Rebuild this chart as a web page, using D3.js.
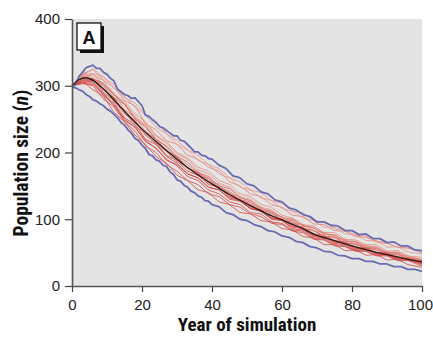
<!DOCTYPE html>
<html><head><meta charset="utf-8">
<script src="https://cdn.jsdelivr.net/npm/d3@7"></script>
<style>
body{margin:0;background:#fff;}
svg{display:block;}
text{font-family:"Liberation Sans Narrow","Roboto Condensed","Arial Narrow","Liberation Sans",sans-serif;}
</style></head>
<body>
<svg id="c" width="433" height="337"></svg>
<script>
// ---- data ----
const xTicks = [0, 20, 40, 60, 80, 100];
const yTicks = [0, 100, 200, 300, 400];
const panelLabel = "A";
const xTitle = "Year of simulation";

const meanYears = [0,2,4,6,8,10,15,20,25,30,35,40,45,50,55,60,65,70,75,80,85,90,95,100];
const meanVals  = [300,309,312,308,300,290,262,235,212,190,170,153,137,123,110,99,88,76,68,60,53,47,41,36];

const bandYears = [0,1,2,3,4,5,6,7,8,9,10,11,12,13,14,15,16,17,18,19,20,21,22,23,24,25,26,27,28,29,30,31,32,33,34,35,36,37,38,39,40,42,44,46,48,50,52,54,56,58,60,62,64,66,68,70,72,74,76,78,80,82,84,86,88,90,92,94,96,98,100];
const upperVals = [298,302,314,320,327,329,331,326,326,320,317,311,307,295,291,287,285,281,282,276,270,256,254,249,245,239,237,233,229,225,225,218,217,212,207,201,201,196,195,191,190,181,176,165,162,153,150,141,138,129,126,117,114,107,104,96,96,91,90,83,83,77,78,71,71,65,66,60,60,54,53];
const lowerVals = [298,297,294,292,287,284,279,277,273,270,265,262,257,252,245,241,234,229,221,218,211,206,197,195,189,187,181,179,171,167,159,157,151,148,142,140,135,133,128,127,122,119,110,107,100,98,92,89,83,81,75,73,67,65,59,57,52,51,46,45,41,41,37,37,33,33,29,29,25,25,22];

const simYears = [0,3,6,9,12,15,18,21,24,27,30,33,36,39,42,45,48,51,54,57,60,63,66,69,72,75,78,81,84,87,90,93,96,100];
const sim01 = [300,318,324,308,298,278,270,243,234,218,212,196,190,178,172,156,150,138,134,122,118,106,104,93,92,83,82,74,73,66,64,58,57,50];
const sim02 = [300,303,302,286,270,250,238,216,207,188,182,168,162,148,144,130,127,116,112,102,98,88,86,75,74,66,64,56,56,49,47,42,41,35];
const sim03 = [300,314,310,302,282,272,252,240,220,208,192,182,168,162,148,142,129,126,114,110,99,98,86,84,74,74,64,64,56,56,47,48,40,38];
const sim04 = [300,307,306,288,274,252,242,220,212,194,184,168,162,148,144,132,128,116,112,100,98,86,84,74,72,64,62,54,55,48,47,40,41,33];
const sim05 = [300,316,316,308,288,274,254,242,224,214,198,190,174,168,154,148,134,130,118,114,102,100,90,88,78,77,68,67,60,59,50,51,43,40];
const sim06 = [300,304,300,280,268,246,232,210,200,182,172,158,152,138,134,122,118,108,104,94,92,82,80,70,69,60,59,52,52,45,45,38,38,30];
const sim07 = [300,318,318,314,296,284,268,256,238,228,212,204,188,182,168,162,148,144,132,128,116,112,102,98,88,88,78,77,68,68,58,59,51,48];
const sim08 = [300,308,308,294,282,260,248,226,214,196,188,172,166,152,148,134,130,118,114,102,100,90,88,78,76,68,66,58,58,50,50,42,42,36];
const sim09 = [300,310,308,300,276,262,240,228,212,202,186,178,166,160,146,140,128,124,112,110,98,96,86,83,74,73,64,63,56,55,47,48,39,37];
const sim10 = [300,310,310,290,278,258,246,230,220,202,194,176,170,154,148,134,128,116,114,102,100,90,88,76,74,66,64,56,56,48,48,41,40,34];
const sim11 = [300,317,312,302,286,276,258,246,226,216,200,192,178,172,158,152,138,134,122,118,106,102,92,90,80,80,70,69,62,62,52,53,45,43];
const sim12 = [300,305,304,286,272,248,238,218,206,190,180,164,158,144,138,126,122,110,108,96,94,84,82,72,70,62,60,53,53,46,46,39,39,32];
const sim13 = [300,313,310,304,286,272,250,238,220,210,194,186,170,164,150,146,132,128,116,112,102,100,90,87,78,76,67,66,58,58,49,50,42,39];
const sim14 = [300,311,318,302,288,264,252,232,220,202,192,176,172,158,152,138,134,122,118,108,104,94,92,82,80,71,70,61,61,53,52,45,45,39];
const sim15 = [300,307,294,284,260,246,226,212,194,184,166,158,144,140,126,122,110,108,98,96,86,84,74,72,62,62,53,54,46,47,39,40,32,28];
const sim16 = [300,315,326,312,302,282,274,256,246,228,218,204,196,182,176,162,156,144,140,128,124,112,110,98,96,86,84,76,75,67,65,58,57,50];
const sims = [sim01,sim02,sim03,sim04,sim05,sim06,sim07,sim08,sim09,sim10,sim11,sim12,sim13,sim14,sim15,sim16];
const simColors = ["#e07a6e","#d23c3a","#e06a60","#cf3533","#e48a7c","#d4463f","#e6948a","#d03a36","#dd665c","#d4403c","#e38476","#cf3836","#da5a52","#e07e72","#d2403b","#e58f82"];

// ---- layout ----
const svg = d3.select("#c");
const L = 72, R = 422, T = 19, B = 286;
const x = d3.scaleLinear().domain([0,100]).range([L,R]);
const y = d3.scaleLinear().domain([0,400]).range([B,T]);

svg.append("rect").attr("x",L).attr("y",T).attr("width",R-L).attr("height",B-T).attr("fill","#e4e4e4");

svg.append("clipPath").attr("id","pc").append("rect")
  .attr("x",L).attr("y",T).attr("width",R-L).attr("height",B-T);
const g = svg.append("g").attr("clip-path","url(#pc)");

const line = (xs) => d3.line().x((d,i)=>x(xs[i])).y(d=>y(d));

sims.forEach((s,i)=>{
  g.append("path").attr("d", line(simYears)(s)).attr("fill","none")
   .attr("stroke", simColors[i]).attr("stroke-width",1).attr("stroke-opacity",0.75)
   .attr("stroke-linejoin","round");
});
[upperVals, lowerVals].forEach(v=>{
  g.append("path").attr("d", line(bandYears)(v)).attr("fill","none")
   .attr("stroke","#6a6ab0").attr("stroke-width",1.8).attr("stroke-linejoin","round");
});
g.append("path").attr("d", line(meanYears).curve(d3.curveMonotoneX)(meanVals))
  .attr("fill","none").attr("stroke","#2a1a1a").attr("stroke-width",1.3);

// axes
const ax = svg.append("g").attr("transform",`translate(0,${B})`)
  .call(d3.axisBottom(x).tickValues(xTicks).tickSize(6).tickPadding(7).tickSizeOuter(0));
const ay = svg.append("g").attr("transform",`translate(${L},0)`)
  .call(d3.axisLeft(y).tickValues(yTicks).tickSize(7).tickPadding(5).tickSizeOuter(0));
[ax,ay].forEach(a=>{
  a.select(".domain").attr("stroke","#555").attr("stroke-width",1.6);
  a.selectAll(".tick line").attr("stroke","#444").attr("stroke-width",1.2);
  a.selectAll(".tick text").attr("font-size",15).attr("fill","#222")
   .style("font-family",'"Liberation Sans Narrow","Liberation Sans",sans-serif');
});
ax.selectAll(".tick text").filter(d=>d===100).attr("dx",-2);

// titles
svg.append("text").attr("x",247).attr("y",331).attr("text-anchor","middle")
  .attr("font-size",19).attr("font-weight","bold").attr("fill","#111").text(xTitle);
const yt = svg.append("text").attr("transform",`translate(28,163) rotate(-90)`)
  .attr("text-anchor","middle").attr("font-size",19.5).attr("font-weight","bold").attr("fill","#111");
yt.append("tspan").text("Population size (");
yt.append("tspan").attr("font-style","italic").text("n");
yt.append("tspan").text(")");

// panel label
svg.append("rect").attr("x",80).attr("y",26).attr("width",24).attr("height",27).attr("fill","#111");
svg.append("rect").attr("x",77).attr("y",23).attr("width",24).attr("height",27)
  .attr("fill","#fff").attr("stroke","#111").attr("stroke-width",1.3);
svg.append("text").attr("x",89).attr("y",43.5).attr("text-anchor","middle")
  .attr("font-size",18).attr("font-weight","bold").attr("fill","#111")
  .style("font-family",'"Liberation Sans","Arial",sans-serif').text(panelLabel);
</script>
</body></html>
